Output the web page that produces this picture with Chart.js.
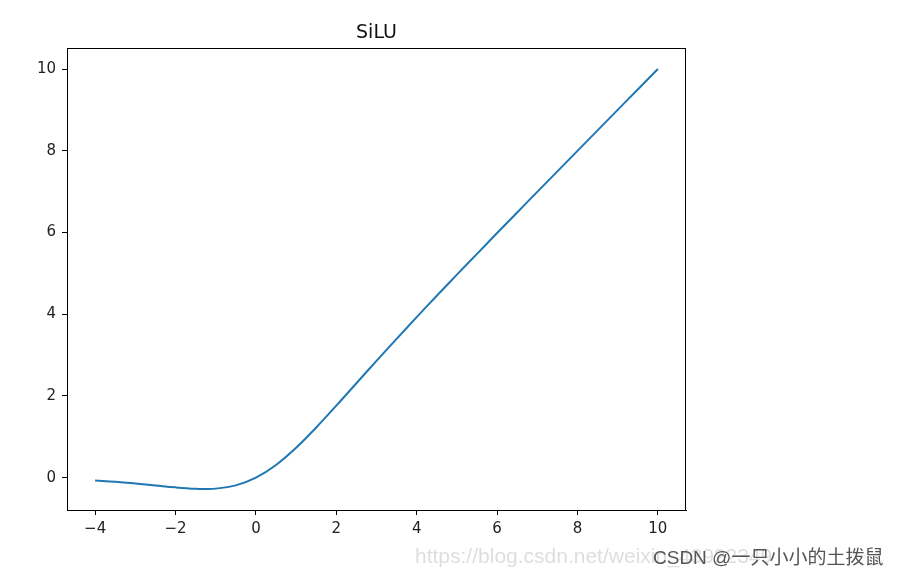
<!DOCTYPE html>
<html>
<head>
<meta charset="utf-8">
<script src="https://cdn.jsdelivr.net/npm/chart.js@4"></script>
<style>
  html, body { margin: 0; padding: 0; background: #fff; }
  #wrap { width: 899px; height: 575px; }
</style>
</head>
<body>
<div id="wrap"><canvas id="chart" width="899" height="575"></canvas></div>
<script>
// valores (SiLU)
const xValues = [-4, -3.5, -3, -2.5, -2, -1.5, -1.25, -1, -0.5, 0, 0.5, 1, 1.5, 2, 2.5, 3, 3.5, 4, 4.5, 5, 5.5, 6, 6.5, 7, 7.5, 8, 8.5, 9, 9.5, 10];
const yValues = [-0.072, -0.101, -0.142, -0.190, -0.238, -0.274, -0.278, -0.269, -0.189, 0, 0.311, 0.731, 1.227, 1.762, 2.31, 2.858, 3.395, 3.928, 4.45, 4.967, 5.477, 5.985, 6.49, 6.994, 7.496, 7.997, 8.498, 8.999, 9.5, 10.0];
const xTicks = [-4, -2, 0, 2, 4, 6, 8, 10];
const yTicks = [0, 2, 4, 6, 8, 10];
const titleText = 'SiLU';
const watermarkUrl = 'https://blog.csdn.net/weixin_43922349';
const watermarkUser = 'CSDN @一只小小的土拨鼠';

const fontFamily = '"DejaVu Sans", sans-serif';
const minus = v => String(v).replace('-', '\u2212');

// moldura do gráfico, título e marcas d'água
const extras = {
    id: 'extras',
    afterDraw(chart) {
        const { ctx, chartArea: a } = chart;
        ctx.save();
        ctx.strokeStyle = '#000';
        ctx.lineWidth = 1;
        ctx.strokeRect(a.left + 0.5, a.top + 0.5, a.right - a.left - 1, a.bottom - a.top);

        ctx.fillStyle = '#111';
        ctx.font = '19px ' + fontFamily;
        ctx.textAlign = 'center';
        ctx.textBaseline = 'alphabetic';
        ctx.fillText(titleText, (a.left + a.right) / 2, 38);

        ctx.textAlign = 'left';
        ctx.font = '21px "Liberation Sans", Arial, sans-serif';
        ctx.fillStyle = '#dedede';
        ctx.fillText(watermarkUrl, 415, 563);
        ctx.font = '19px "Liberation Sans", "Noto Sans CJK SC", sans-serif';
        ctx.fillStyle = '#555';
        ctx.fillText(watermarkUser, 653, 564);
        ctx.restore();
    }
};

const axisCommon = {
    type: 'linear',
    grid: {
        drawOnChartArea: false,
        drawTicks: true,
        tickLength: 5,
        tickColor: '#000',
        tickWidth: 1
    },
    border: { display: true, color: '#000', width: 1 },
    ticks: {
        color: '#222',
        font: { family: fontFamily, size: 15 },
        callback: v => minus(v)
    }
};

new Chart(document.getElementById('chart'), {
    type: 'line',
    data: {
        labels: xValues,
        datasets: [{
            data: xValues.map((x, i) => ({ x: x, y: yValues[i] })),
            borderColor: '#1f77b4',
            borderWidth: 2,
            pointRadius: 0,
            fill: false,
            tension: 0.4
        }]
    },
    options: {
        responsive: false,
        animation: false,
        layout: { padding: { top: 48, right: 213, bottom: 0, left: 0 } },
        plugins: {
            legend: { display: false },
            title: { display: false },
            tooltip: { enabled: false }
        },
        scales: {
            x: {
                ...axisCommon,
                min: -4.7,
                max: 10.7,
                afterBuildTicks: s => { s.ticks = xTicks.map(v => ({ value: v })); },
                afterFit: s => { s.height = 65; },
                ticks: { ...axisCommon.ticks, padding: 5, maxRotation: 0 }
            },
            y: {
                ...axisCommon,
                min: -0.792,
                max: 10.514,
                afterBuildTicks: s => { s.ticks = yTicks.map(v => ({ value: v })); },
                afterFit: s => { s.width = 67; },
                ticks: { ...axisCommon.ticks, padding: 6 }
            }
        }
    },
    plugins: [extras]
});
</script>
</body>
</html>
